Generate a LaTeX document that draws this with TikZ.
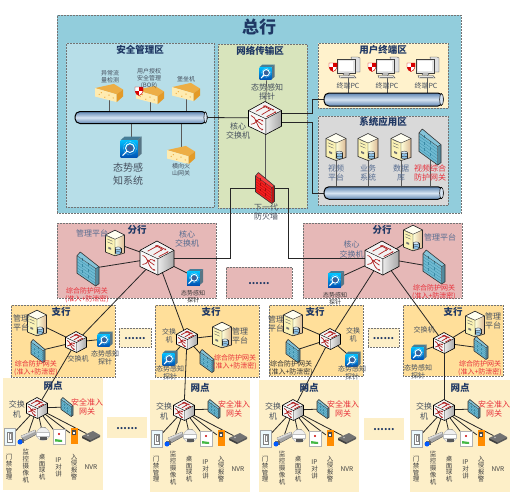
\documentclass[tikz,border=0pt]{standalone}
\usepackage{fontspec}
\setmainfont{Noto Sans CJK SC}
\usetikzlibrary{arrows.meta}
\pgfdeclarelayer{back}\pgfdeclarelayer{icons}\pgfdeclarelayer{texts}
\pgfsetlayers{back,main,icons,texts}
\definecolor{cHead}{HTML}{92CDDC}
\definecolor{cSec}{HTML}{B7DEE8}
\definecolor{cNet}{HTML}{D8E4BC}
\definecolor{cUser}{HTML}{FFF2CC}
\definecolor{cSys}{HTML}{D9D9D9}
\definecolor{cBr}{HTML}{E6B8B7}
\definecolor{cSub}{HTML}{FFDF9A}
\definecolor{cSite}{HTML}{FDEFC8}
\definecolor{cNavy}{HTML}{1F3864}
\definecolor{cText}{HTML}{46505E}
\definecolor{cBlueT}{HTML}{566C90}
\definecolor{cRed}{HTML}{E8303A}
\definecolor{cyanbusA}{HTML}{5F86B2}
\definecolor{cyanbusB}{HTML}{D6E4F2}
\definecolor{cWall}{HTML}{6FBAD2}
\definecolor{cWallL}{HTML}{3A8BA6}
\definecolor{cFire}{HTML}{F51E1E}
\definecolor{cFireL}{HTML}{A80E0E}
\definecolor{cCyl}{HTML}{8FC4E8}
\definecolor{cYtop}{HTML}{EDAE45}
\definecolor{cYfront}{HTML}{FFEBB0}
\definecolor{cYside}{HTML}{E39A28}
\definecolor{cSwR}{HTML}{B02020}
\tikzset{
 region/.style={draw=black!55,densely dotted,line width=.5pt,inner sep=0,anchor=north west},
 ianchor/.style={circle,inner sep=0,draw=none},
 lb/.style={inner sep=0,align=center,text=cText},
 ttl/.style={text=cNavy,font=\fontsize{9.5}{11}\selectfont\bfseries},
 big/.style={text=cNavy,font=\fontsize{17}{20}\selectfont\bfseries},
 t6/.style={font=\fontsize{6}{7}\selectfont},
 t7/.style={font=\fontsize{7}{8.4}\selectfont},
 t8/.style={font=\fontsize{8}{9.4}\selectfont},
 t10/.style={font=\fontsize{10}{12.5}\selectfont},
 vt/.style={font=\fontsize{6.5}{6.9}\selectfont,text=black!75},
 rd/.style={text=cRed},
 bt/.style={text=cBlueT},
 dots/.style={text=cNavy,font=\fontsize{10}{12}\selectfont\bfseries},
 lnk/.style={line width=.8pt,draw=black!85},
 lnkg/.style={line width=.7pt,draw=black!65},
 busn/.style={draw=black,line width=1pt,rounded corners=5pt,inner sep=0,top color=cyanbusA,bottom color=cyanbusA,middle color=cyanbusB},
 pics/swicon/.style={code={
   \fill[white!95!black] (0,-1)--(1,-.45)--(.05,.05)--(-1,-.45)--cycle;
   \fill[white!97!black] (-1,-.45)--(.05,.05)--(.05,1)--(-1,.5)--cycle;
   \shade[left color=white!92!black,right color=black!35] (.05,.05)--(1,-.45)--(1,.5)--(.05,1)--cycle;
   \draw[black,line width=.6pt,line join=round] (0,-1)--(1,-.45)--(1,.5)--(.05,1)--(-1,.5)--(-1,-.45)--cycle;
   \draw[black,line width=.4pt] (-1,-.45)--(.05,.05)--(1,-.45) (.05,.05)--(.05,1);
   \begin{scope}[draw=cSwR,line width=.7pt,-{Stealth[length=1.8pt,width=1.8pt]}]
     \draw (-.55,-.4)--(0,-.7);
     \draw (.02,-.74)--(.55,-.47);
     \draw (-.2,-.2)--(.3,-.5);
     \draw (.35,-.5)--(-.1,-.75);
     \draw (.1,-.08)--(.68,-.38);
     \draw (-.85,-.15) .. controls (-.5,-.1) and (-.55,.6) .. (-.1,.72);
     \draw (-.85,.38) .. controls (-.5,.42) and (-.55,-.1) .. (-.1,.2);
     \draw (-.15,.42)--(-.6,.1);
   \end{scope}
 }},
 pics/wall/.style n args={2}{code={
   \fill[#1!85!white] (-.7,-1)--(1,-.13)--(.7,-.03)--(-1,-.78)--cycle;
   \fill[#1] (-1,-.78)--(.7,-.03)--(.7,1)--(-1,.25)--cycle;
   \fill[#1!75!black] (.7,-.03)--(1,-.13)--(1,.87)--(.7,1)--cycle;
   \foreach \t in {.17,.34,.51,.68,.85}{
     \draw[#2,line width=.25pt] (-1,-.78+1.03*\t)--(.7,-.03+1.03*\t);
   }
   \foreach \t/\u in {.08/.3,.25/.6,.42/.3,.59/.6,.76/.3,.92/.6}{
     \draw[#2,line width=.25pt] (-1+1.7*\u,-.78+.44*\u+1.03*\t-.085)--(-1+1.7*\u,-.78+.44*\u+1.03*\t+.085);
   }
   \draw[black!80,line width=.6pt,line join=round] (-.7,-1)--(1,-.13)--(1,.87)--(.7,1)--(-1,.25)--(-1,-.78)--cycle;
   \draw[black!80,line width=.3pt] (-1,-.78)--(.7,-.03)--(1,-.13) (.7,-.03)--(.7,1);
 }},
 pics/srv/.style={code={
   \fill[yellow!6!white] (0,-1.35)--(1,-.85)--(0,-.4)--(-1,-.85)--cycle;
   \fill[yellow!25!white!92!brown] (-1,-.85)--(0,-.4)--(0,1.35)--(-1,.95)--cycle;
   \shade[left color=yellow!15!white,right color=brown!55!white] (0,-.4)--(1,-.85)--(1,1.05)--(0,1.35)--cycle;
   \draw[black!85,line width=.6pt,line join=round] (0,-1.35)--(1,-.85)--(1,1.05)--(0,1.35)--(-1,.95)--(-1,-.85)--cycle;
   \draw[black!85,line width=.35pt] (-1,-.85)--(0,-.4)--(1,-.85) (0,-.4)--(0,1.35);
   \foreach \u in {-.3,0,.3}{\draw[black!60,line width=.4pt] (-.8,-.42+\u)--(-.25,-.18+\u);}
   \fill[black!55] (-.7,.4)--(-.4,.52)--(-.4,.72)--(-.7,.6)--cycle;
   \fill[cCyl] (0,.55) rectangle (.65,1.05);
   \fill[cCyl] (.325,1.05) ellipse (.325 and .14);
   \draw[black!85,line width=.35pt] (0,.55)--(0,1.05) (.65,.55)--(.65,1.05);
   \draw[black!85,line width=.35pt] (.325,1.05) ellipse (.325 and .14);
   \filldraw[draw=black!85,fill=cCyl!40!white,line width=.35pt] (.325,.55) ellipse (.325 and .14);
 }},
 pics/prb/.style={code={
   \fill[cyan!55!black] (-1,-.65)--(-.6,-1)--(1,-1)--(.6,-.65)--cycle;
   \fill[cyan!40!black!90] (.6,-.65)--(1,-1)--(1,.65)--(.6,1)--cycle;
   \shade[top color=cyan!75!blue,bottom color=blue!55!cyan!70!black] (-1,-.65) rectangle (.6,1);
   \draw[white,line width=.9pt] (-.1,.1) circle (.42);
   \draw[white,line width=.4pt,densely dotted] (-.1,.1) circle (.62);
   \fill[cyan!40!blue!70!black] (-.1,.1) circle (.3);
   \draw[white,line width=1.1pt,line cap=round] (-.42,.42)--(-.78,.8);
 }},
 pics/ydev/.style={code={
   \fill[cYtop] (-1,-.35)--(.35,-.65)--(1,-.25)--(.55,.1)--cycle;
   \fill[cYfront] (-1,-.35)--(.55,.1)--(.55,.65)--(-1,.25)--cycle;
   \fill[cYside] (.55,.1)--(1,-.25)--(1,.25)--(.55,.65)--cycle;
   \foreach \a/\b in {-.7/.1,-.3/.3,0/.15,.3/.35,-.55/-.02}{\fill[cYtop] (\a,\b) circle (.05);}
 }},
 pics/shieldred/.style={code={
   \fill[red!85!black] (-4,-4)--(4,-4)--(4,0) .. controls (4,2.5) and (1.5,4) .. (0,4.5) .. controls (-1.5,4) and (-4,2.5) .. (-4,0)--cycle;
   \fill[white] (-4,-4) rectangle (0,0);
   \fill[white] (0,0)--(4,0) .. controls (4,2.5) and (1.5,4) .. (0,4.5)--cycle;
   \draw[red!80!black,line width=.4pt] (-4,-4)--(4,-4)--(4,0) .. controls (4,2.5) and (1.5,4) .. (0,4.5) .. controls (-1.5,4) and (-4,2.5) .. (-4,0)--cycle;
 }},
 pics/pcicon/.style={code={
   \filldraw[fill=black!12,draw=black!70,line width=.4pt] (3,-10)--(10,-10)--(12,-9)--(12,5)--(5,5)--cycle;
   \filldraw[fill=white!90!black,draw=black!75,line width=.5pt] (-11,-8)--(7,-8)--(7,6)--(-11,6)--cycle;
   \fill[white] (-9,-6) rectangle (5,4);
   \filldraw[fill=black!20,draw=black!70,line width=.3pt] (-4,6)--(1,6)--(2,8)--(-5,8)--cycle;
   \filldraw[fill=black!10,draw=black!70,line width=.4pt] (-9,8.5)--(6,8.5)--(8,11)--(-8,11)--cycle;
   \draw[black!50,line width=.3pt] (-7,9.7)--(6,9.7);
 }},
 pics/door/.style={code={
   \filldraw[fill=black!8!cyan!8!white,draw=black!35,line width=.3pt] (-5.5,-8.5) rectangle (5.5,8.5);
   \filldraw[fill=white,draw=black!50,line width=.3pt] (-2.5,-5) rectangle (2.5,5);
   \draw[black!45,line width=.3pt] (-1,-3.5) rectangle (1,2);
 }},
 pics/cam/.style={code={
   \filldraw[fill=black!35,draw=black!70,line width=.3pt] (-6,-1)--(8,-7)--(10,-3)--(-3,4)--cycle;
   \fill[black!15] (-6,-1)--(8,-7)--(8.5,-5.5)--(-5,.5)--cycle;
   \fill[black!60] (-8,2) rectangle (-3,6);
   \fill[blue!65!cyan] (-7,5) circle (2.5);
 }},
 pics/dome/.style={code={
   \fill[black!55] (-2.5,-8)--(2.5,-8)--(3,-5)--(-3,-5)--cycle;
   \filldraw[fill=black!6,draw=black!30,line width=.3pt] (0,-1) circle (6.5);
   \fill[black!65] (-3.5,1) rectangle (3.5,5);
   \filldraw[fill=white,draw=black!25,line width=.3pt] (-6.5,-2.5) rectangle (6.5,.8);
 }},
 pics/ipt/.style={code={
   \filldraw[fill=white,draw=black!30,line width=.3pt] (-6,-7.5) rectangle (6,7.5);
   \fill[red!80!black] (0,-3) circle (1.2);
   \fill[green!45!gray] (-4,2)--(3,3)--(3,5)--(-4,4.5)--cycle;
 }},
 pics/alm/.style={code={
   \fill[orange!90!yellow] (-3.5,-8) rectangle (3.5,8);
   \fill[black!70] (-2,-6) rectangle (2,-1);
   \fill[white] (-.7,-4.5) rectangle (.7,-2.5);
 }},
 pics/nvr/.style={code={
   \fill[black!55] (-9,0)--(2,-5)--(9,-1)--(-1,4)--cycle;
   \fill[black!75] (-9,0)--(-1,4)--(-1,6)--(-9,2)--cycle;
   \fill[black!65] (-1,4)--(9,-1)--(9,1)--(-1,6)--cycle;
   \fill[black!25] (-3,-.5) circle (.8);
 }},
}
\newcommand{\Reg}[6]{\begin{pgfonlayer}{back}\node[region,fill=#6,minimum width={#4-#2},minimum height={#5-#3}] (#1) at (#2,#3) {};\end{pgfonlayer}}
\newcommand{\Lab}[5][]{\begin{pgfonlayer}{texts}\node[lb,#1] (#2) at (#3,#4) {#5};\end{pgfonlayer}}
\newcommand{\Swi}[4]{\node[ianchor,minimum size=1.6*#4] (#1) at (#2,#3) {};\begin{pgfonlayer}{icons}\pic[scale=#4] at (#2,#3) {swicon};\end{pgfonlayer}}
\newcommand{\Srv}[4]{\node[ianchor,minimum size=1.6*#4] (#1) at (#2,#3) {};\begin{pgfonlayer}{icons}\pic[scale=#4] at (#2,#3) {srv};\end{pgfonlayer}}
\newcommand{\Prb}[4]{\node[ianchor,minimum size=1.5*#4] (#1) at (#2,#3) {};\begin{pgfonlayer}{icons}\pic[scale=#4] at (#2,#3) {prb};\end{pgfonlayer}}
\newcommand{\Gw}[5]{\node[ianchor,minimum size=1.5*#4] (#1) at (#2,#3) {};\begin{pgfonlayer}{icons}\pic[xscale=#4,yscale=#5] at (#2,#3) {wall={cWall}{cWallL}};\end{pgfonlayer}}
\newcommand{\Ydev}[3]{\node[ianchor,minimum size=10] (#1) at (#2,#3) {};\begin{pgfonlayer}{icons}\pic[xscale=14,yscale=14] at (#2,#3) {ydev};\end{pgfonlayer}}
\newcommand{\Pc}[3]{\node[ianchor,minimum size=12] (#1) at (#2,#3) {};\begin{pgfonlayer}{icons}\pic at (#2,#3) {pcicon};\end{pgfonlayer}}
\newcommand{\Shd}[3]{\node[ianchor,minimum size=6] (#1) at (#2,#3) {};\begin{pgfonlayer}{icons}\pic at (#2,#3) {shieldred};\end{pgfonlayer}}
\newcommand{\Dev}[4]{\node[ianchor,minimum size=10] (#1) at (#3,#4) {};\begin{pgfonlayer}{icons}\pic at (#3,#4) {#2};\end{pgfonlayer}}
\newcommand{\DotBox}[6]{\Reg{#1}{#2}{#3}{#4}{#5}{#6}\begin{pgfonlayer}{texts}\node[lb,dots,anchor=base] (#1t) at ({(#2+#4)/2},{(#3+#5)/2+1.5}) {......};\end{pgfonlayer}}
\newcommand{\Site}[3]{%
 \Reg{#1box}{#2}{#3}{#2+100}{#3+112}{cSite,draw=none}%
 \begin{scope}[shift={(#2,#3)}]
 \Lab[ttl]{#1ttl}{50}{7.5}{网点}
 \Swi{#1sw}{34}{30}{10.5}
 \Gw{#1gw}{64}{29}{6}{9.5}
 \Lab[t8]{#1swl}{14}{31.5}{交换\\机}
 \Lab[t8,rd]{#1gwl}{84}{29}{安全准入\\网关}
 \Dev{#1door}{door}{7}{59}
 \Dev{#1cam}{cam}{24}{59}
 \Dev{#1dome}{dome}{40}{57}
 \Dev{#1ipt}{ipt}{56}{59}
 \Dev{#1alm}{alm}{71}{58}
 \Dev{#1nvr}{nvr}{88}{58}
 \Lab[vt]{#1doorl}{6}{89}{门\\禁\\管\\理}
 \Lab[vt]{#1caml}{23}{88}{监\\控\\摄\\像\\机}
 \Lab[vt]{#1domel}{39}{89}{桌\\面\\球\\机}
 \Lab[vt]{#1iptl}{55.5}{89}{IP\\对\\讲}
 \Lab[vt]{#1alml}{71}{89}{入\\侵\\报\\警}
 \Lab[vt]{#1nvrl}{88}{89}{NVR}
 \end{scope}
 \draw[lnk] (#1sw)--(#1gw);
 \foreach \dv in {door,cam,dome,ipt,alm,nvr}{\draw[lnk] (#1sw)--(#1\dv);}
}
\begin{document}
\begin{tikzpicture}[x=1pt,y=-1pt]
\useasboundingbox (0,0) rectangle (512,496);
% ---------- head office regions
\Reg{head}{57}{15}{461}{213}{cHead}
\Reg{secz}{66}{43}{214}{207}{cSec}
\Reg{netz}{218}{44}{307}{208}{cNet}
\Reg{userz}{318}{43}{448}{108}{cUser}
\Reg{sysz}{318}{116}{448}{205}{cSys}
\Lab[big]{headt}{259}{27}{总行}
\Lab[ttl]{sect}{140}{49.5}{安全管理区}
\Lab[ttl]{nett}{260}{51}{网络传输区}
\Lab[ttl]{usert}{383}{50}{用户终端区}
\Lab[ttl]{syst}{383}{122}{系统应用区}
% buses
\begin{pgfonlayer}{icons}
\node[busn,minimum width=132,minimum height=12] (sbus) at (141,117.5) {};
\node[busn,minimum width=119,minimum height=13] (ubus) at (383.5,99.5) {};
\node[busn,minimum width=119,minimum height=12.5] (ybus) at (383.5,193) {};
\draw[black,line width=.5pt,fill=cyanbusB] ([xshift=-2pt]sbus.east) ellipse (1.6 and 5.6);
\draw[black,line width=.5pt,fill=cyanbusB] ([xshift=-2pt]ubus.east) ellipse (1.8 and 6);
\draw[black,line width=.5pt,fill=cyanbusB] ([xshift=-2pt]ybus.east) ellipse (1.8 and 5.8);
\end{pgfonlayer}
% security zone
\Ydev{d1}{109}{93}\Ydev{d2}{150}{95}\Ydev{d3}{186}{92}\Ydev{d4}{181}{155}
\Shd{shb}{139}{91}
\Prb{sprb}{131}{147}{10.5}
\Lab[t6]{d1l}{110}{77}{异常流\\量检测}
\Lab[t6]{d2l}{149}{79}{用户授权\\安全管理\\(BOR)}
\Lab[t6]{d3l}{186}{79}{堡垒机}
\Lab[t6]{d4l}{181}{170}{横向火\\山网关}
\Lab[t10]{sprbl}{128}{174}{态势感\\知系统}
\draw[lnkg] (d1)--(d1 |- sbus.north);
\draw[lnkg] (d2)--(d2 |- sbus.north);
\draw[lnkg] (d3)--(d3 |- sbus.north);
\draw[lnkg] (d4)--(d4 |- sbus.south);
\draw[lnkg] (sprb)--(sprb |- sbus.south);
% network zone
\Swi{core}{265}{118}{16.5}
\Prb{tprb}{267}{72}{7.5}
\node[ianchor,minimum size=12] (fw) at (265,188) {};
\begin{pgfonlayer}{icons}\pic[xscale=9.5,yscale=15.5] at (265,188) {wall={cFire}{cFireL}};\end{pgfonlayer}
\Lab[t8]{corel}{238}{131}{核心\\交换机}
\Lab[t8]{tprbl}{267}{92}{态势感知\\探针}
\Lab[t8]{fwl}{266}{212}{下一代\\防火墙}
\draw[lnkg] (tprb)--(core);
\draw[lnkg] (core)--(fw);
\draw[lnk] (sbus.east)--(core);
% user zone
\Pc{pc1}{348}{67}\Pc{pc2}{387}{67}\Pc{pc3}{427}{67}
\Shd{sh1}{333}{67}\Shd{sh2}{372}{67}\Shd{sh3}{411}{67}
\Lab[t7]{pc1l}{348}{86}{终端PC}
\Lab[t7]{pc2l}{387}{86}{终端PC}
\Lab[t7]{pc3l}{426}{86}{终端PC}
\draw[lnkg] (pc1)--(pc1 |- ubus.north);
\draw[lnkg] (pc2)--(pc2 |- ubus.north);
\draw[lnkg] (pc3)--(pc3 |- ubus.north);
\coordinate (coreA) at (275,113);
\coordinate (coreB) at (275,122);
\coordinate (ba1) at (312,113);
\coordinate (ba2) at (312,99.5);
\coordinate (bb1) at (312,122);
\coordinate (bb2) at (312,193);
\draw[lnk] (coreA)--(ba1)--(ba2)--(ubus.west);
\draw[lnk] (coreB)--(bb1)--(bb2)--(ybus.west);
% system zone
\Srv{sv1}{336}{147}{10}\Srv{sv2}{368}{147}{10}\Srv{sv3}{401}{147}{10}
\Gw{sgw}{430}{147}{11}{18}
\Lab[t8,bt]{sv1l}{336}{173}{视频\\平台}
\Lab[t8,bt]{sv2l}{368}{173}{业务\\系统}
\Lab[t8,bt]{sv3l}{401}{173}{数据\\库}
\Lab[t8,rd]{sgwl}{430}{173}{视频综合\\防护网关}
\draw[lnkg] (sv1)--(sv1 |- ybus.north);
\draw[lnkg] (sv2)--(sv2 |- ybus.north);
\draw[lnkg] (sv3)--(sv3 |- ybus.north);
\draw[lnkg] (sgw)--(sgw |- ybus.north);
% ---------- branch offices
\Reg{brL}{57}{223}{216}{298}{cBr}
\Reg{brR}{303}{223}{462}{298}{cBr}
\DotBox{brM}{226}{267}{292}{298}{cBr}
\Lab[ttl]{brLt}{137}{230}{分行}
\Lab[ttl]{brRt}{382}{230}{分行}
\Swi{bl}{157}{258}{17}
\Srv{blsv}{115}{243}{9.5}
\Gw{blgw}{88}{269}{11}{17}
\Prb{blpr}{195}{277}{8}
\Lab[t8,bt]{blsvl}{92}{233}{管理平台}
\Lab[t8,bt]{bll}{187}{239}{核心\\交换机}
\Lab[t7,rd]{blgwl}{87}{295.5}{综合防护网关\\(准入+防泄密)}
\Lab[t6,text=black!80]{blprl}{193}{297}{态势感知\\探针}
\draw[lnk] (bl)--(blsv);
\draw[lnk] (bl)--(blgw);
\draw[lnk] (bl)--(blpr);
\Swi{br}{382}{258}{17}
\Srv{brsv}{413}{238}{9.5}
\Gw{brgw}{434}{267}{11}{17}
\Prb{brpr}{336}{279}{8}
\Lab[t8,bt]{brsvl}{440}{237}{管理平台}
\Lab[t8,bt]{brl}{351.5}{249.5}{核心\\交换机}
\Lab[t7,rd]{brgwl}{434}{292}{综合防护网关\\(准入+防泄密)}
\Lab[t6,text=black!80]{brprl}{335}{298.5}{态势感知\\探针}
\draw[lnk] (br)--(brsv);
\draw[lnk] (br)--(brgw);
\draw[lnk] (br)--(brpr);
% firewall to branches
\coordinate (fl1) at (230,188);
\coordinate (fl2) at (230,258);
\coordinate (fr1) at (288,188);
\coordinate (fr2) at (288,258);
\draw[lnk] (fw)--(fl1)--(fl2)--(bl);
\draw[lnk] (fw)--(fr1)--(fr2)--(br);
% ---------- sub-branches
\Reg{s1}{11}{305}{115}{377}{cSub}
\Reg{s2}{155}{305}{259}{377}{cSub}
\Reg{s3}{269}{305}{363}{376}{cSub}
\Reg{s4}{403}{305}{503}{376}{cSub}
\DotBox{sm1}{119}{328}{151}{347}{cSite}
\DotBox{sm2}{368}{328}{399}{347}{cSite}
\Lab[ttl]{s1t}{61}{312}{支行}
\Lab[ttl]{s2t}{211}{312}{支行}
\Lab[ttl]{s3t}{315}{312}{支行}
\Lab[ttl]{s4t}{453}{312}{支行}
% s1
\Swi{a1}{76}{342}{10.5}
\Srv{a1sv}{37}{323}{9.5}
\Gw{a1gw}{38}{351}{7}{11.5}
\Prb{a1pr}{105}{339}{7.5}
\Lab[t8]{a1svl}{21}{323}{管理\\平台}
\Lab[t7]{a1l}{78}{359}{交换机}
\Lab[t7]{a1prl}{105}{358}{态势感知\\探针}
\Lab[t7,rd]{a1gwl}{36}{368.5}{综合防护网关\\(准入+防泄密)}
\draw[lnk] (a1)--(a1sv);\draw[lnk] (a1)--(a1gw);\draw[lnk] (a1)--(a1pr);
% s2
\Swi{a2}{187}{339}{10.5}
\Srv{a2sv}{222}{335}{9.5}
\Gw{a2gw}{207}{361}{7}{11.5}
\Prb{a2pr}{170}{358}{7.5}
\Lab[t8]{a2svl}{240}{336}{管理\\平台}
\Lab[t7]{a2l}{169}{336}{交换\\机}
\Lab[t7]{a2prl}{170}{373}{态势感知\\探针}
\Lab[t7,rd]{a2gwl}{235}{362.5}{综合防护网关\\(准入+防泄密)}
\draw[lnk] (a2)--(a2sv);\draw[lnk] (a2)--(a2gw);\draw[lnk] (a2)--(a2pr);
% s3
\Swi{a3}{330}{339}{10.5}
\Srv{a3sv}{293}{323}{9.5}
\Gw{a3gw}{293}{351}{7}{11.5}
\Prb{a3pr}{353}{359}{7.5}
\Lab[t8]{a3svl}{276}{324}{管理\\平台}
\Lab[t7]{a3l}{353}{335}{交换\\机}
\Lab[t7]{a3prl}{352}{373}{态势感知\\探针}
\Lab[t7,text=black!80]{a3gwl}{291}{368}{综合防护网关\\(准入+防泄密)}
\draw[lnk] (a3)--(a3sv);\draw[lnk] (a3)--(a3gw);\draw[lnk] (a3)--(a3pr);
% s4
\Swi{a4}{444}{343}{10.5}
\Srv{a4sv}{475}{324}{9.5}
\Gw{a4gw}{481}{348}{7}{11.5}
\Prb{a4pr}{419}{352}{7.5}
\Lab[t8]{a4svl}{493}{321}{管理\\平台}
\Lab[t7]{a4l}{424}{330}{交换机}
\Lab[t7]{a4prl}{418}{372}{态势感知\\探针}
\Lab[t7,rd]{a4gwl}{480}{368}{综合防护网关\\(准入+防泄密)}
\draw[lnk] (a4)--(a4sv);\draw[lnk] (a4)--(a4gw);\draw[lnk] (a4)--(a4pr);
% branch to sub-branch
\draw[lnk] (bl)--(a1);
\draw[lnk] (bl)--(a2);
\draw[lnk] (br)--(a3);
\draw[lnk] (br)--(a4);
% ---------- sites
\Site{n1}{3}{378}
\Site{n2}{150}{380}
\Site{n3}{259}{380}
\Site{n4}{410}{380}
\DotBox{nm1}{107}{417}{147}{438}{cSite,draw=none}
\DotBox{nm2}{364}{418}{404}{440}{cSite,draw=none}
\draw[lnk] (a1)--(n1sw);
\draw[lnk] (a2)--(n2sw);
\draw[lnk] (a3)--(n3sw);
\draw[lnk] (a4)--(n4sw);
\end{tikzpicture}
\end{document}
